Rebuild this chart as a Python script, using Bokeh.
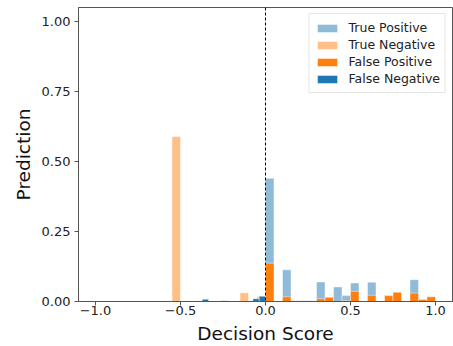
from bokeh.plotting import figure
from bokeh.models import (Range1d, FixedTicker, CustomJSTickFormatter, Span,
                          Legend, LegendItem, NumeralTickFormatter)
from bokeh.embed import file_html
from bokeh.resources import INLINE

# ---- data: histogram bins (left edge) and heights per outcome class ----
BIN_WIDTH = 0.05

TP_LEFT = [0.00, 0.10, 0.20, 0.25, 0.30, 0.40, 0.45, 0.50, 0.60, 0.85]
TP_HEIGHT = [0.440, 0.113, 0.003, 0.003, 0.070, 0.052, 0.021, 0.066, 0.069, 0.078]

TN_LEFT = [-0.55, -0.40, -0.15, -0.10, -0.05]
TN_HEIGHT = [0.589, 0.003, 0.031, 0.003, 0.018]

FP_LEFT = [0.00, 0.10, 0.15, 0.30, 0.35, 0.45, 0.50, 0.60, 0.70, 0.75, 0.85, 0.90, 0.95]
FP_HEIGHT = [0.137, 0.017, 0.003, 0.010, 0.015, 0.003, 0.036, 0.022, 0.021, 0.033, 0.030, 0.007, 0.017]

FN_BIN_WIDTH = 0.037
FN_LEFT = [-0.59, -0.372, -0.26, -0.074, -0.037]
FN_HEIGHT = [0.002, 0.008, 0.003, 0.010, 0.019]

SERIES_NAMES = ["True Positive", "True Negative", "False Positive", "False Negative"]

X_TICKS = [-1.0, -0.5, 0.0, 0.5, 1.0]
X_TICK_LABELS = ["\u22121.0", "\u22120.5", "0.0", "0.5", "1.0"]
Y_TICKS = [0.0, 0.25, 0.5, 0.75, 1.0]
X_LABEL = "Decision Score"
Y_LABEL = "Prediction"

FONT = "DejaVu Sans"

p = figure(width=453, height=346, output_backend="svg", toolbar_location=None,
           x_range=Range1d(-1.1, 1.1), y_range=Range1d(0, 1.05),
           min_border_left=78, min_border_right=1, min_border_top=7,
           min_border_bottom=44)
p.xgrid.visible = False
p.ygrid.visible = False
p.outline_line_color = "#555555"
p.outline_line_width = 1
p.background_fill_color = "white"
p.border_fill_color = "white"


def bars(left, heights, width, color, alpha):
    return p.quad(left=left, right=[l + width for l in left], bottom=0, top=heights,
                  fill_color=color, fill_alpha=alpha,
                  line_color="white", line_alpha=0.45, line_width=1)


r_tp = bars(TP_LEFT, TP_HEIGHT, BIN_WIDTH, "#1f77b4", 0.5)
r_tn = bars(TN_LEFT, TN_HEIGHT, BIN_WIDTH, "#ff7f0e", 0.5)
r_fp = bars(FP_LEFT, FP_HEIGHT, BIN_WIDTH, "#ff7f0e", 1.0)
r_fn = bars(FN_LEFT, FN_HEIGHT, FN_BIN_WIDTH, "#1f77b4", 1.0)

p.add_layout(Span(location=0, dimension="height", line_color="black",
                  line_width=1, line_dash="3 2"))

# axes
for ax in (p.xaxis[0], p.yaxis[0]):
    ax.axis_line_color = "#555555"
    ax.major_tick_line_color = "#555555"
    ax.major_tick_out = 4
    ax.major_tick_in = 0
    ax.minor_tick_out = 0
    ax.minor_tick_in = 0
    ax.major_label_text_font = FONT
    ax.major_label_text_font_size = "13px"
    ax.major_label_text_color = "#222222"
    ax.axis_label_text_font = FONT
    ax.axis_label_text_font_size = "18.5px"
    ax.axis_label_text_font_style = "normal"
    ax.axis_label_text_color = "#111111"

p.xaxis.ticker = FixedTicker(ticks=X_TICKS)
p.xaxis.formatter = CustomJSTickFormatter(
    args=dict(xt=X_TICKS, xl=X_TICK_LABELS),
    code="const i = xt.findIndex(t => Math.abs(t - tick) < 1e-9); return i >= 0 ? xl[i] : '';")
p.xaxis.axis_label = X_LABEL
p.xaxis.major_label_standoff = 0
p.xaxis.axis_label_standoff = 5

p.yaxis.ticker = FixedTicker(ticks=Y_TICKS)
p.yaxis.formatter = NumeralTickFormatter(format="0.00")
p.yaxis.axis_label = Y_LABEL
p.yaxis.major_label_standoff = 4
p.yaxis.axis_label_standoff = 5

legend = Legend(items=[LegendItem(label=n, renderers=[r]) for n, r in
                       zip(SERIES_NAMES, [r_tp, r_tn, r_fp, r_fn])],
                location="top_right")
legend.margin = 6
legend.padding = 5
legend.spacing = 0
legend.label_height = 17
legend.glyph_height = 10
legend.glyph_width = 25
legend.label_standoff = 9
legend.label_text_font = FONT
legend.label_text_font_size = "12.5px"
legend.label_text_color = "#222222"
legend.border_line_color = "#cccccc"
legend.border_line_width = 1
legend.background_fill_color = "white"
legend.background_fill_alpha = 0.8
p.add_layout(legend)

open("out.html", "w").write(file_html(p, INLINE))
